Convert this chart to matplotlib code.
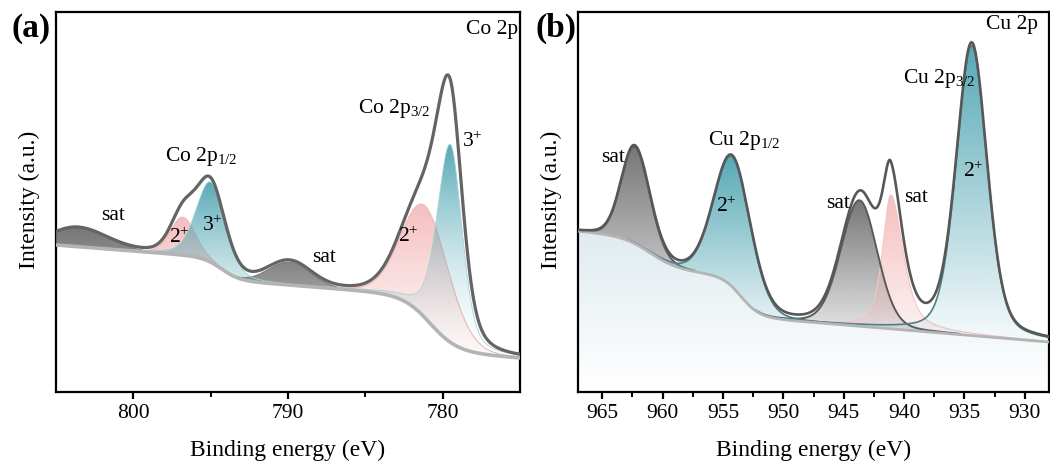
import numpy as np
import matplotlib
matplotlib.use("Agg")
import matplotlib.pyplot as plt
import matplotlib.colors as mcolors

# ---------------- data ----------------
# Panel (a): Co 2p
co_kinds = ["sat", "2+", "3+", "sat", "2+", "3+"]
co_centers = [803.6, 796.8, 795.0, 789.9, 781.1, 779.5]
co_heights = [19, 38, 80, 23, 112, 198]
co_hwhm_high = [1.9, 0.95, 1.1, 1.6, 1.8, 1.0]   # toward higher binding energy
co_hwhm_low = [2.2, 0.95, 1.1, 1.6, 1.8, 0.9]    # toward lower binding energy
co_eta = [0.0, 0.2, 0.3, 0.0, 0.1, 0.35]
co_bg_base = 34          # background at right edge (775 eV)
co_bg_slope = 1.2
co_step_centers = [780.8, 794.3]
co_step_widths = [1.5, 1.0]
co_step_sizes = [55, 22]
co_xlim = (805, 775)
co_ticks = [800, 790, 780]

# Panel (b): Cu 2p
cu_kinds = ["sat", "2+", "sat", "sat2", "2+"]
cu_centers = [962.3, 954.2, 943.7, 941.1, 934.4]
cu_heights = [97, 130, 126, 134, 290]
cu_hwhm_high = [1.3, 1.8, 1.8, 0.8, 1.5]
cu_hwhm_low = [1.45, 1.8, 1.75, 1.2, 1.5]
cu_eta = [0.1, 0.15, 0.15, 0.6, 0.3]
cu_bg_base = 50          # background at right edge (928 eV)
cu_bg_slope = 1.0
cu_step_centers = [953.5, 961.0]
cu_step_widths = [1.3, 2.0]
cu_step_sizes = [40, 32]
cu_xlim = (967, 928)
cu_ticks = [965, 960, 955, 950, 945, 940, 935, 930]

# ---------------- style ----------------
plt.rcParams["font.family"] = ["Liberation Serif", "DejaVu Serif"]
plt.rcParams["mathtext.fontset"] = "custom"
plt.rcParams["mathtext.rm"] = "Liberation Serif"
plt.rcParams["mathtext.it"] = "Liberation Serif:italic"
plt.rcParams["mathtext.bf"] = "Liberation Serif:bold"

TEAL = "#4ea4b2"
PINK = "#f3b3b4"
GRAY = "#6f6f6f"
ENV = "#646464"
BGLINE = "#b4b4b4"


def pvoigt(x, c, h, wh, wl, eta):
    w = np.where(x >= c, wh, wl)
    u = (x - c) / w
    g = np.exp(-np.log(2) * u ** 2)
    lor = 1.0 / (1.0 + u ** 2)
    return h * ((1 - eta) * g + eta * lor)


def background(x, base, slope, x_right, centers, widths, sizes):
    b = base + slope * (x - x_right)
    for c, w, s in zip(centers, widths, sizes):
        b = b + s / (1.0 + np.exp(-(x - c) / (w / 1.7)))
    return b


def grad_fill(ax, x, lower, upper, color, a_top, a_bot, z, power=1.0):
    poly = ax.fill_between(x, lower, upper, facecolor="none", edgecolor="none")
    path = poly.get_paths()[0]
    ymin = float(np.min(lower))
    ymax = float(np.max(upper))
    rgb = mcolors.to_rgb(color)
    n = 256
    t = np.linspace(0, 1, n) ** power
    grad = np.zeros((n, 2, 4))
    grad[..., :3] = rgb
    grad[..., 3] = (a_bot + (a_top - a_bot) * t)[:, None]
    im = ax.imshow(grad, extent=[x.min(), x.max(), ymin, ymax], origin="lower",
                   aspect="auto", zorder=z, interpolation="bilinear")
    im.set_clip_path(path, transform=ax.transData)


def outline(ax, x, base, comp, color, lw, z, thr=0.8):
    y = np.where(comp > thr, base + comp, np.nan)
    ax.plot(x, y, color=color, lw=lw, zorder=z)


def style_axes(ax, xlim, ticks, minor):
    ax.set_xlim(*xlim)
    ax.set_ylim(0, 380)
    ax.set_xticks(ticks)
    ax.set_xticks(minor, minor=True)
    ax.set_yticks([])
    for sp in ax.spines.values():
        sp.set_linewidth(1.6)
    ax.tick_params(axis="x", which="major", direction="out", length=5, width=1.6,
                   labelsize=15.5, pad=4)
    ax.tick_params(axis="x", which="minor", direction="out", length=3.5, width=1.4)
    ax.set_xlabel("Binding energy (eV)", fontsize=17)
    ax.set_ylabel("Intensity (a.u.)", fontsize=17)
    ax.xaxis.set_label_coords(0.5, -0.125)


fig = plt.figure(figsize=(10.5, 4.68), dpi=100)
axa = fig.add_axes([56 / 1050, 76 / 468, 464 / 1050, 380 / 468])
axb = fig.add_axes([578 / 1050, 76 / 468, 471 / 1050, 380 / 468])

# ---------------- panel (a) ----------------
xa = np.linspace(co_xlim[1], co_xlim[0], 1500)
bga = background(xa, co_bg_base, co_bg_slope, co_xlim[1], co_step_centers,
                 co_step_widths, co_step_sizes)
comps_a = [pvoigt(xa, c, h, wh, wl, e) for c, h, wh, wl, e in
           zip(co_centers, co_heights, co_hwhm_high, co_hwhm_low, co_eta)]
env_a = bga + np.sum(comps_a, axis=0)

for k, comp in zip(co_kinds, comps_a):
    top = bga + comp
    if k == "sat":
        grad_fill(axa, xa, bga, top, GRAY, 0.95, 0.3, 3)
        outline(axa, xa, bga, comp, "#7a7a7a", 0.8, 3.2)
    elif k == "2+":
        grad_fill(axa, xa, bga, top, PINK, 0.85, 0.08, 3, power=1.2)
        outline(axa, xa, bga, comp, "#f2b8b8", 0.8, 3.2)
    else:
        grad_fill(axa, xa, bga, top, TEAL, 0.95, 0.0, 3.5, power=1.6)
        outline(axa, xa, bga, comp, "#a9d3da", 0.6, 3.6)
axa.plot(xa, bga, color=BGLINE, lw=2.6, zorder=4)
axa.plot(xa, env_a, color=ENV, lw=2.3, zorder=5)

style_axes(axa, co_xlim, co_ticks, [795, 785])
axa.yaxis.set_label_coords(-0.035, 0.505)

fs = 15.5
axa.text(0.9957, 0.953, "Co 2p", transform=axa.transAxes, ha="right", va="center", fontsize=fs)
axa.text(795.6, 235, r"Co 2p$_{1/2}$", ha="center", va="center", fontsize=fs)
axa.text(783.1, 284, r"Co 2p$_{3/2}$", ha="center", va="center", fontsize=fs)
axa.text(778.1, 250, r"3$^{+}$", ha="center", va="center", fontsize=fs)
axa.text(801.3, 176, "sat", ha="center", va="center", fontsize=fs)
axa.text(797.05, 154, r"2$^{+}$", ha="center", va="center", fontsize=fs, zorder=6)
axa.text(794.9, 166, r"3$^{+}$", ha="center", va="center", fontsize=fs, zorder=6)
axa.text(787.7, 134, "sat", ha="center", va="center", fontsize=fs)
axa.text(782.2, 155, r"2$^{+}$", ha="center", va="center", fontsize=fs, zorder=6)

# ---------------- panel (b) ----------------
xb = np.linspace(cu_xlim[1], cu_xlim[0], 1500)
bgb = background(xb, cu_bg_base, cu_bg_slope, cu_xlim[1], cu_step_centers,
                 cu_step_widths, cu_step_sizes)
comps_b = [pvoigt(xb, c, h, wh, wl, e) for c, h, wh, wl, e in
           zip(cu_centers, cu_heights, cu_hwhm_high, cu_hwhm_low, cu_eta)]
env_b = bgb + np.sum(comps_b, axis=0)

# pale area below the background
grad_fill(axb, xb, np.zeros_like(xb), bgb, "#dce9ee", 0.9, 0.0, 1)

for k, comp in zip(cu_kinds, comps_b):
    top = bgb + comp
    if k == "sat":
        grad_fill(axb, xb, bgb, top, GRAY, 0.95, 0.12, 3)
        outline(axb, xb, bgb, comp, "#5a5a5a", 1.4, 3.3)
    elif k == "sat2":
        grad_fill(axb, xb, bgb, top, PINK, 0.85, 0.12, 3.1)
        outline(axb, xb, bgb, comp, "#f4c6c6", 0.8, 3.2)
    else:
        grad_fill(axb, xb, bgb, top, TEAL, 0.95, 0.05, 3.5)
        outline(axb, xb, bgb, comp, "#4f7f86", 1.2, 3.6)
axb.plot(xb, bgb, color=BGLINE, lw=2.0, zorder=4)
axb.plot(xb, env_b, color="#575757", lw=1.9, zorder=5)

style_axes(axb, cu_xlim, cu_ticks, [962.5, 957.5, 952.5, 947.5, 942.5, 937.5, 932.5])
axb.yaxis.set_label_coords(-0.035, 0.505)

axb.text(0.977, 0.968, "Cu 2p", transform=axb.transAxes, ha="right", va="center", fontsize=fs)
axb.text(937.1, 314, r"Cu 2p$_{3/2}$", ha="center", va="center", fontsize=fs, zorder=6)
axb.text(934.3, 220, r"2$^{+}$", ha="center", va="center", fontsize=fs, zorder=6)
axb.text(945.5, 188, "sat", ha="center", va="center", fontsize=fs, zorder=6)
axb.text(939.0, 195, "sat", ha="center", va="center", fontsize=fs, zorder=6)
axb.text(953.2, 251, r"Cu 2p$_{1/2}$", ha="center", va="center", fontsize=fs, zorder=6)
axb.text(954.7, 185, r"2$^{+}$", ha="center", va="center", fontsize=fs, zorder=6)
axb.text(964.1, 235, "sat", ha="center", va="center", fontsize=fs, zorder=6)

fig.text(31 / 1050, 1 - 28 / 468, "(a)", fontsize=24, fontweight="bold", ha="center", va="center")
fig.text(556 / 1050, 1 - 28 / 468, "(b)", fontsize=24, fontweight="bold", ha="center", va="center")

fig.savefig("out.png", dpi=100)
